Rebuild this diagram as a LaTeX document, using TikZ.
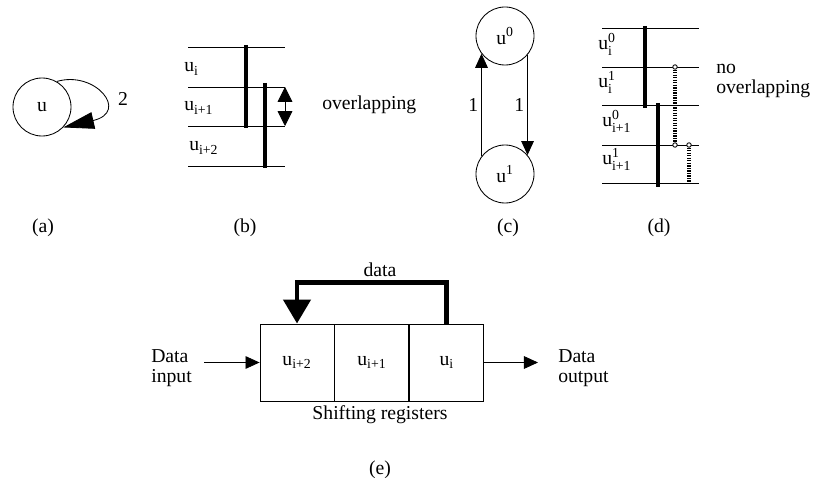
\documentclass[tikz,border=0pt]{standalone}
\usepackage{amsmath}
\usepackage{fontspec}
\setmainfont{Liberation Serif}
\usetikzlibrary{positioning,arrows.meta}

\begin{document}
\begin{tikzpicture}[x=0.025cm,y=-0.025cm,font=\fontsize{14}{14.5}\selectfont,
state/.style={circle,draw,line width=0.6pt,minimum size=1.45cm,inner sep=0pt},
reg/.style={rectangle,draw,line width=0.6pt,minimum width=1.85cm,minimum height=1.925cm,inner sep=0pt},
rule/.style={line width=0.6pt},
bar/.style={line width=3.5pt},
ladder/.style={line width=3.2pt,dash pattern=on 0.9pt off 0.9pt},
arrow/.style={line width=0.6pt,-{Triangle[length=10pt,width=9pt]}},
feed/.style={line width=3.5pt,-{Triangle[length=17pt,width=19pt]}},
lbl/.style={anchor=base west,inner sep=0pt}]
\useasboundingbox (0,0) rectangle (820,478);
% (a) self loop
\node[state] (u) at (42,107) {u};
\draw[line width=0.6pt,-{Triangle[length=22pt,width=12pt]}] (u.60) .. controls (95,70) and (130,112) .. (u.-44);
\node (two) at (123,99) {2};
% (b) overlapping lifetimes
\foreach \y in {47,87,126,166} \draw[rule] (188,\y) -- (285,\y);
\draw[bar] (246,45) -- (246,128);
\draw[bar] (265,83) -- (265,168);
\draw[line width=0.6pt,{Triangle[length=10.5pt,width=10.5pt]}-{Triangle[length=10.5pt,width=10.5pt]}] (285,87) -- (285,126);
\node[lbl] (bi) at (184,72) {u$_\text{i}$};
\node[lbl] (bi1) at (184,111) {u$_\text{i+1}$};
\node[lbl] (bi2) at (189,151) {u$_\text{i+2}$};
\node[lbl] (ov) at (322,110) {overlapping};
% (c) two states
\node[state] (s0) at (505,36) {u$^\text{0}$};
\node[state] (s1) at (505,174) {u$^\text{1}$};
\draw[arrow] (s1.143) -- node[left,pos=0.5,inner sep=2pt] {1} (s0.217);
\draw[arrow] (s0.-40) -- node[left,pos=0.5,inner sep=2pt] {1} (s1.40);
% (d) no overlapping
\foreach \y in {28,67,105,145,183} \draw[rule] (602,\y) -- (699,\y);
\draw[bar] (645,26) -- (645,108);
\draw[bar] (658,103) -- (658,187);
\draw[ladder] (675,67) -- (675,145);
\draw[ladder] (689,145) -- (689,183);
\foreach \p in {(675,67),(675,145),(689,145)} \draw[rule,fill=white] \p circle (1.6pt);
\node[lbl] (d0) at (598,50) {u$_\text{i}^\text{0}$};
\node[lbl] (d1) at (598,88) {u$_\text{i}^\text{1}$};
\node[lbl] (d2) at (602,127) {u$_\text{i+1}^\text{0}$};
\node[lbl] (d3) at (602,165) {u$_\text{i+1}^\text{1}$};
\node[lbl,align=left] (nov) at (716,94) {no\\overlapping};
% captions
\node (ca) at (43,228) {(a)};
\node (cb) at (245,228) {(b)};
\node (cc) at (508,228) {(c)};
\node (cd) at (659,228) {(d)};
% (e) shifting registers
\node[reg] (r2) at (297,362.5) {u$_\text{i+2}$};
\node[reg,right=0pt of r2] (r1) {u$_\text{i+1}$};
\node[reg,right=0pt of r1] (r0) {u$_\text{i}$};
\draw[feed] (r0.north) -- ++(0,-41) -| (r2.north);
\node (data) at (380,270) {data};
\coordinate (inp) at (204,362.5);
\coordinate (outp) at (538,362.5);
\draw[arrow] (inp) -- (r2.west);
\draw[arrow] (r0.east) -- (outp);
\node[anchor=west,align=left,inner sep=0pt] (din) at (151,368) {Data\\input};
\node[anchor=west,align=left,inner sep=0pt] (dout) at (558,368) {Data\\output};
\node (sr) at (380,415) {Shifting registers};
\node (ce) at (380,470) {(e)};
\end{tikzpicture}
\end{document}
